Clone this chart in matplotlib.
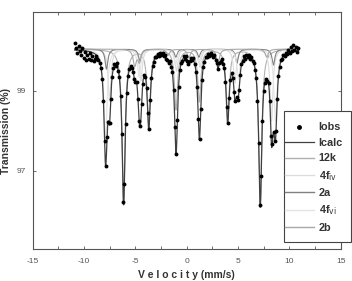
import numpy as np
import matplotlib
matplotlib.use("Agg")
import matplotlib.pyplot as plt
from matplotlib.lines import Line2D
from matplotlib.patches import Rectangle

# ---- fitted sub-spectra (line positions mm/s, line depths %)
baseline = 100.04
site_names = ["12k", "4f$_{\\rm iv}$", "2a", "4f$_{\\rm vi}$", "2b"]
pos_12k = [-6.13, -3.68, -1.03, 1.24, 4.00, 7.17]
dep_12k = [3.8, 1.9, 1.5, 1.3, 1.75, 3.85]
pos_4f1 = [-7.50, -4.45, -0.98, 1.30, 4.70, 8.27]
dep_4f1 = [1.3, 0.8, 0.55, 0.45, 0.85, 1.8]
pos_2a = [-7.80, -4.55, -1.05, 1.20, 4.90, 8.45]
dep_2a = [0.5, 0.3, 0.2, 0.2, 0.35, 0.4]
pos_4f2 = [-7.90, -4.62, -1.08, 1.20, 5.05, 8.65]
dep_4f2 = [2.3, 0.7, 0.4, 0.35, 0.75, 1.8]
pos_2b = [-5.05, -4.60, -1.80, 0.22, 3.05, 7.80]
dep_2b = [0.4, 0.3, 0.15, 0.22, 0.35, 0.2]
hwhm = [0.18, 0.16, 0.16, 0.18, 0.18]

# ---- observed spectrum
obs_v = [-10.86, -10.74, -10.62, -10.50, -10.38, -10.26, -10.14, -10.02, -9.90, -9.78,
         -9.66, -9.54, -9.42, -9.30, -9.18, -9.06, -8.94, -8.82, -8.70, -8.58,
         -8.46, -8.34, -8.22, -8.10, -7.98, -7.86, -7.74, -7.62, -7.50, -7.38,
         -7.26, -7.14, -7.02, -6.90, -6.78, -6.66, -6.54, -6.42, -6.30, -6.18,
         -6.06, -5.94, -5.82, -5.70, -5.58, -5.46, -5.34, -5.22, -5.10, -4.98,
         -4.86, -4.74, -4.62, -4.50, -4.38, -4.26, -4.14, -4.02, -3.90, -3.78,
         -3.66, -3.54, -3.42, -3.30, -3.18, -3.06, -2.94, -2.82, -2.70, -2.58,
         -2.46, -2.34, -2.22, -2.10, -1.98, -1.86, -1.74, -1.62, -1.50, -1.38,
         -1.26, -1.14, -1.02, -0.90, -0.78, -0.66, -0.54, -0.42, -0.30, -0.18,
         -0.06, 0.06, 0.18, 0.30, 0.42, 0.54, 0.66, 0.78, 0.90, 1.02,
         1.14, 1.26, 1.38, 1.50, 1.62, 1.74, 1.86, 1.98, 2.10, 2.22,
         2.34, 2.46, 2.58, 2.70, 2.82, 2.94, 3.06, 3.18, 3.30, 3.42,
         3.54, 3.66, 3.78, 3.90, 4.02, 4.14, 4.26, 4.38, 4.50, 4.62,
         4.74, 4.86, 4.98, 5.10, 5.22, 5.34, 5.46, 5.58, 5.70, 5.82,
         5.94, 6.06, 6.18, 6.30, 6.42, 6.54, 6.66, 6.78, 6.90, 7.02,
         7.14, 7.26, 7.38, 7.50, 7.62, 7.74, 7.86, 7.98, 8.10, 8.22,
         8.34, 8.46, 8.58, 8.70, 8.82, 8.94, 9.06, 9.18, 9.30, 9.42,
         9.54, 9.66, 9.78, 9.90, 10.02, 10.14, 10.26, 10.38, 10.50, 10.62,
         10.74, 10.86]
obs_t = [100.18, 100.06, 99.93, 100.12, 99.98, 99.88, 100.06, 99.82, 99.97, 99.77,
         99.90, 99.79, 99.93, 99.76, 99.86, 99.74, 99.80, 99.86, 99.78, 99.76,
         99.68, 99.56, 99.30, 98.74, 97.75, 97.12, 97.83, 98.22, 98.18, 98.78,
         99.34, 99.56, 99.66, 99.61, 99.68, 99.50, 99.33, 98.86, 97.91, 96.22,
         96.66, 98.16, 98.95, 99.37, 99.55, 99.62, 99.56, 99.47, 99.29, 99.22,
         99.21, 98.80, 98.23, 98.11, 98.66, 99.17, 99.40, 99.33, 99.06, 98.45,
         98.03, 98.76, 99.31, 99.62, 99.71, 99.84, 99.83, 99.92, 99.87, 99.95,
         99.88, 99.94, 99.86, 99.90, 99.79, 99.77, 99.68, 99.73, 99.60, 99.46,
         99.01, 98.08, 97.42, 98.27, 99.08, 99.52, 99.70, 99.74, 99.86, 99.80,
         99.87, 99.75, 99.66, 99.73, 99.82, 99.76, 99.81, 99.66, 99.47, 99.10,
         98.30, 97.80, 98.54, 99.27, 99.60, 99.72, 99.85, 99.83, 99.92, 99.86,
         99.94, 99.88, 99.84, 99.90, 99.76, 99.69, 99.55, 99.70, 99.72, 99.79,
         99.66, 99.57, 99.22, 98.60, 98.18, 98.82, 99.26, 99.44, 99.32, 98.97,
         98.75, 98.83, 98.77, 99.01, 99.40, 99.67, 99.74, 99.86, 99.80, 99.90,
         99.83, 99.88, 99.80, 99.84, 99.74, 99.70, 99.52, 99.31, 98.75, 97.70,
         96.15, 96.86, 98.24, 98.98, 99.20, 99.28, 99.23, 99.18, 98.73, 97.86,
         97.66, 97.96, 97.75, 97.98, 98.80, 99.37, 99.58, 99.76, 99.80, 99.90,
         99.86, 99.95, 99.91, 100.02, 99.94, 100.08, 99.98, 100.14, 100.02, 100.10,
         99.96, 100.06]

x_ticks = [-15, -10, -5, 0, 5, 10, 15]
x_ticklabels = ["-15", "-10", "-5", "0", "5", "10", "15"]
y_ticks = [97, 99]
y_ticklabels = ["97", "99"]

sites = [(pos_12k, dep_12k), (pos_4f1, dep_4f1), (pos_2a, dep_2a),
         (pos_4f2, dep_4f2), (pos_2b, dep_2b)]
site_colors = ["#b0b0b0", "#dcdcdc", "#808080", "#e4e4e4", "#a8a8a8"]

vgrid = np.linspace(-10.9, 10.9, 3000)


def sextet(v, pos, dep, g):
    out = np.zeros_like(v)
    for p, d in zip(pos, dep):
        out += d * g**2 / ((v - p)**2 + g**2)
    return out

comps = [sextet(vgrid, p, d, g) for (p, d), g in zip(sites, hwhm)]
calc = baseline - sum(comps)

W, H = 352, 281
fig = plt.figure(figsize=(W/100, H/100), dpi=100)
ax = fig.add_axes([32.5/W, 1-249.3/H, (340.7-32.5)/W, (249.3-12.3)/H])

for c, col in zip(comps, site_colors):
    ax.plot(vgrid, baseline - c, color=col, lw=0.8)
ax.plot(vgrid, calc, color="#404040", lw=0.9)
ax.plot(obs_v, obs_t, "o", color="black", ms=2.8, mew=0)

ax.set_xlim(-15, 15)
ax.set_ylim(95.03, 100.96)
ax.set_xticks(x_ticks)
ax.set_xticks([-12.5, -7.5, -2.5, 2.5, 7.5, 12.5], minor=True)
ax.set_yticks(y_ticks)
ax.tick_params(direction="in", top=True, right=True, which="both",
               labelsize=6, colors="#555555", length=2.5, width=0.6)
ax.tick_params(axis="x", pad=6)
ax.tick_params(axis="y", pad=5)
for s in ax.spines.values():
    s.set_color("#555555")
    s.set_linewidth(0.8)
ax.set_xticklabels(x_ticklabels, family="Liberation Sans")
ax.set_yticklabels(y_ticklabels, family="Liberation Sans")
ax.set_ylabel("Transmission (%)", family="Liberation Sans", weight="bold",
              fontsize=7.5, color="#333333", labelpad=4)
ax.set_xlabel("V e l o c i t y (mm/s)", family="Liberation Sans", weight="bold",
              fontsize=7.5, color="#333333", labelpad=4)

# legend box
box = Rectangle((284/W, 1-241.7/H), (351.3-284)/W, (241.7-111)/H,
                transform=fig.transFigure, facecolor="white",
                edgecolor="#444444", lw=0.8, zorder=5)
fig.patches.append(box)

handles = [Line2D([], [], ls="none", marker="o", color="black", ms=2.5),
           Line2D([], [], color="#404040", lw=0.9)] + \
          [Line2D([], [], color=c, lw=1.0) for c in site_colors]
labels = ["Iobs", "Icalc"] + site_names
leg = fig.legend(handles, labels, loc="upper left",
                 bbox_to_anchor=(284.5/W, 1-122.5/H), frameon=False,
                 prop={"family": "Liberation Sans", "weight": "bold", "size": 7.8},
                 handlelength=2.7, handletextpad=0.45, labelspacing=0.5,
                 borderpad=0, borderaxespad=0)
leg.set_zorder(6)
for t in leg.get_texts():
    t.set_color("#333333")

fig.savefig("out.png", dpi=100)
